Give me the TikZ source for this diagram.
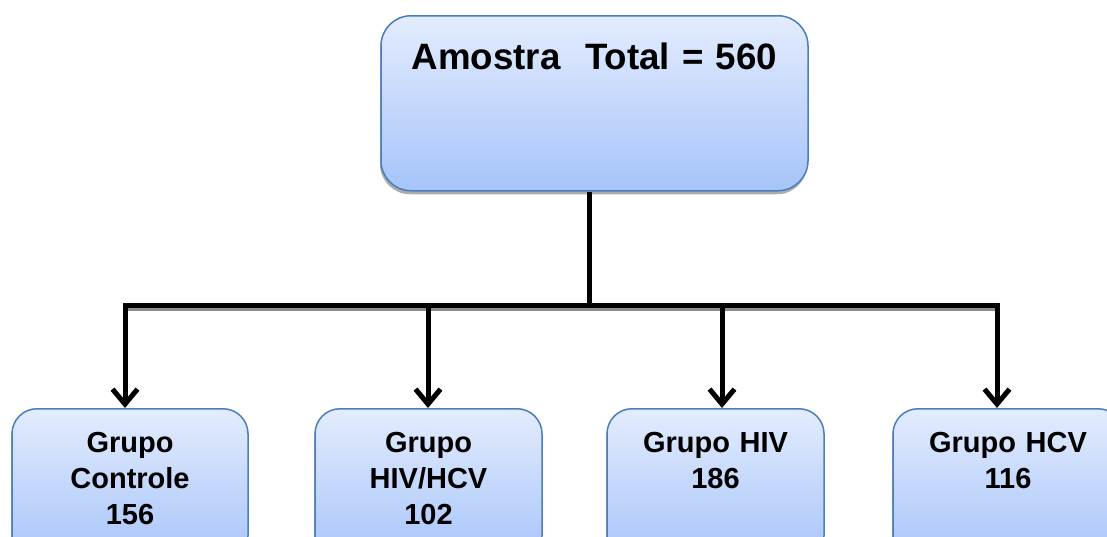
\documentclass[tikz,border=0pt]{standalone}
\usepackage{fontspec}
\setmainfont{Liberation Sans}
\usetikzlibrary{arrows.meta,shadows}

\definecolor{boxtop}{RGB}{227,236,253}
\definecolor{boxbot}{RGB}{166,196,250}
\definecolor{boxline}{RGB}{74,126,187}

\tikzset{
	basebox/.style={draw=boxline, line width=1.5pt, top color=boxtop, bottom color=boxbot,
		align=center, inner xsep=0pt,
		drop shadow={shadow xshift=-1pt, shadow yshift=-3.5pt, fill=black!65}},
	totalbox/.style={basebox, rounded corners=30pt, minimum width=427pt, text width=427pt,
		font=\bfseries\fontsize{36.7}{44}\selectfont,
		inner ysep=27.5pt, text height=26.3pt, text depth=93.7pt},
	grbox/.style={basebox, rounded corners=25pt, minimum width=#1, text width=#1,
		font=\bfseries\fontsize{29}{36}\selectfont,
		inner ysep=23pt, text height=20.8pt, text depth=85pt},
	arr/.style={line width=5pt, -{Straight Barb[length=15pt,width=25pt]}}
}

\begin{document}
\begin{tikzpicture}[x=1pt, y=-1pt]
	\useasboundingbox (0, 0) rectangle (1107, 536);
	\clip (0, 0) rectangle (1107, 536);
	%boxes
	\node[totalbox, anchor=north] (total) at (594.5, 15) {Amostra~~Total = 560};
	\node[grbox=236pt, anchor=north] (g1) at (130, 408) {Grupo\\Controle\\156};
	\node[grbox=227pt, anchor=north] (g2) at (428.5, 408) {Grupo\\HIV/HCV\\102};
	\node[grbox=217pt, anchor=north] (g3) at (715.5, 408) {Grupo HIV\\186};
	\node[grbox=230pt, anchor=north] (g4) at (1008, 408) {Grupo HCV\\116};
	%lines
	\coordinate (split) at (589, 305);
	\coordinate (b1) at (125, 305);
	\coordinate (b2) at (428, 305);
	\coordinate (b3) at (722, 305);
	\coordinate (b4) at (997, 305);
	\draw[line width=5pt] (split |- total.south) -- (split);
	\draw[line width=3pt, black!45] ([yshift=-4pt]b1) -- ([yshift=-4pt]b4);
	\draw[line width=5pt, line cap=rect] (b1) -- (b4);
	\foreach \i in {1, 2, 3, 4}
		\draw[arr] (b\i) -- (b\i |- g\i.north);
\end{tikzpicture}
\end{document}
